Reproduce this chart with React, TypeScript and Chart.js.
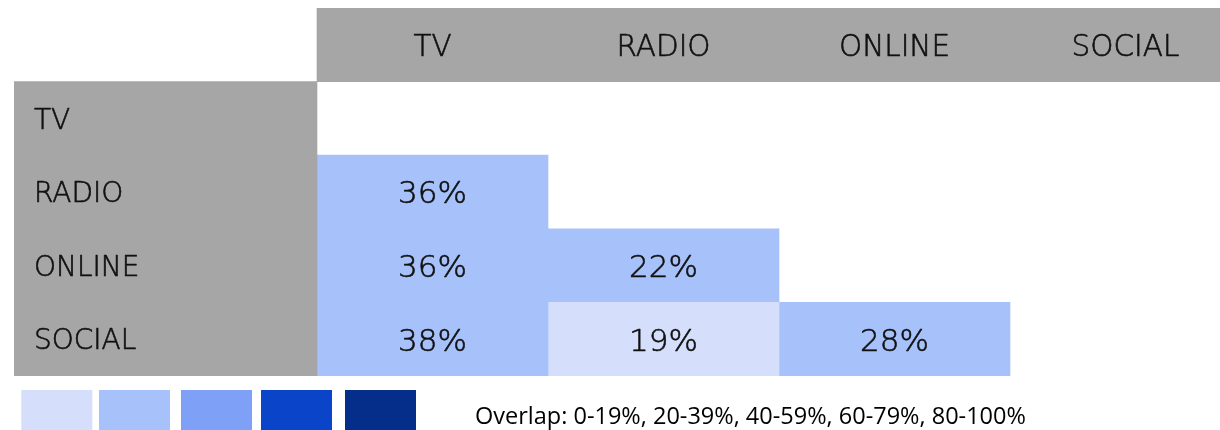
import React, { useEffect, useRef } from "react";
import { Chart, registerables } from "chart.js";

Chart.register(...registerables);

// ---- data ----
const COLUMNS: string[] = ["TV", "RADIO", "ONLINE", "SOCIAL"];
const ROWS: string[] = ["TV", "RADIO", "ONLINE", "SOCIAL"];
// overlap % per row (ROWS) and column (COLUMNS); null = empty cell
const OVERLAP_TV: (number | null)[] = [null, null, null, null];
const OVERLAP_RADIO: (number | null)[] = [36, null, null, null];
const OVERLAP_ONLINE: (number | null)[] = [36, 22, null, null];
const OVERLAP_SOCIAL: (number | null)[] = [38, 19, 28, null];
const OVERLAP: (number | null)[][] = [OVERLAP_TV, OVERLAP_RADIO, OVERLAP_ONLINE, OVERLAP_SOCIAL];

const BIN_STARTS: number[] = [0, 20, 40, 60, 80];
const BIN_COLORS: string[] = ["#d5dffc", "#a7c1fa", "#7ea1f7", "#0a44c9", "#052e8a"];
const LEGEND_TEXT = "Overlap: 0-19%, 20-39%, 40-59%, 60-79%, 80-100%";

// ---- style / layout ----
const GRAY = "#a6a6a6";
const TEXT = "#111111";
const LABEL_COL_UNITS = 303 / 231; // width of the row-label column in column units
const CANVAS_W = 1220;
const CANVAS_H = 430;
const PAD_LEFT = 14;
const PAD_TOP = 8;
const TABLE_BOTTOM = 376;
const FONT = "300 {size}px 'DejaVu Sans'";

function font(size: number): string {
  return FONT.replace("{size}", String(size));
}

function colorFor(v: number | null): string {
  if (v == null) return "rgba(0,0,0,0)";
  let idx = 0;
  for (let i = 0; i < BIN_STARTS.length; i++) if (v >= BIN_STARTS[i]) idx = i;
  return BIN_COLORS[idx];
}

function drawText(ctx: CanvasRenderingContext2D, s: string, x: number, y: number) {
  ctx.fillText(s, x, y);
  ctx.strokeText(s, x, y);
}

export default function App() {
  const ref = useRef<HTMLCanvasElement | null>(null);

  useEffect(() => {
    document.body.style.margin = "0";
    if (!ref.current) return;
    const yLabels = ["HEADER", ...ROWS];

    const datasets: any[] = [];
    // header background
    datasets.push({
      data: yLabels.map((_, i) => (i === 0 ? [0, COLUMNS.length] : null)),
      backgroundColor: GRAY,
    });
    // row label background
    datasets.push({
      data: yLabels.map((_, i) => (i === 0 ? null : [-LABEL_COL_UNITS, 0])),
      backgroundColor: GRAY,
    });
    // cells, one dataset per column
    COLUMNS.forEach((_, c) => {
      datasets.push({
        isCell: true,
        values: yLabels.map((_, i) => (i === 0 ? null : OVERLAP[i - 1][c])),
        data: yLabels.map((_, i) => (i === 0 || OVERLAP[i - 1][c] == null ? null : [c, c + 1])),
        backgroundColor: (ctx: any) => {
          const i = ctx.dataIndex;
          return i === 0 ? "rgba(0,0,0,0)" : colorFor(OVERLAP[i - 1][c]);
        },
      });
    });

    const textPlugin = {
      id: "tableText",
      afterDatasetsDraw(chart: any) {
        const ctx = chart.ctx as CanvasRenderingContext2D;
        const xs = chart.scales.x;
        const ys = chart.scales.y;
        ctx.save();
        ctx.fillStyle = TEXT;
        ctx.strokeStyle = TEXT;
        ctx.lineWidth = 0.6;
        ctx.lineJoin = "round";
        // header labels
        ctx.font = font(29.5);
        ctx.textAlign = "center";
        ctx.textBaseline = "alphabetic";
        COLUMNS.forEach((name, c) => {
          const x = xs.getPixelForValue(c + 0.5);
          const y = ys.getPixelForValue(0) + 0.365 * 29.5;
          drawText(ctx, name, x, y);
        });
        // row labels
        ctx.font = font(28);
        ctx.textAlign = "left";
        ROWS.forEach((name, r) => {
          const x = xs.getPixelForValue(-LABEL_COL_UNITS) + 20;
          const y = ys.getPixelForValue(r + 1) + 0.365 * 28;
          drawText(ctx, name, x, y);
        });
        // cell values
        ctx.font = font(31);
        ctx.textAlign = "center";
        chart.data.datasets.forEach((ds: any, di: number) => {
          if (!ds.isCell) return;
          const meta = chart.getDatasetMeta(di);
          meta.data.forEach((el: any, i: number) => {
            const v = ds.values[i];
            if (v == null) return;
            const cx = (el.x + el.base) / 2;
            const cy = el.y + 0.365 * 31;
            drawText(ctx, v + "%", cx, cy);
          });
        });
        // legend
        const top = chart.chartArea.bottom + 14;
        const lefts = [21.3, 99, 181, 261, 345];
        BIN_COLORS.forEach((col, i) => {
          ctx.fillStyle = col;
          ctx.fillRect(lefts[i], top, 71, 60);
        });
        ctx.fillStyle = "#000000";
        ctx.font = "23.5px 'Open Sans'";
        ctx.textAlign = "left";
        ctx.fillText(LEGEND_TEXT, 475, chart.chartArea.bottom + 48);
        ctx.restore();
      },
    };

    const chart = new Chart(ref.current, {
      type: "bar",
      data: { labels: yLabels, datasets },
      options: {
        indexAxis: "y",
        animation: false,
        responsive: false,
        devicePixelRatio: 1,
        layout: {
          padding: { left: PAD_LEFT, right: 0, top: PAD_TOP, bottom: CANVAS_H - TABLE_BOTTOM },
        },
        datasets: {
          bar: {
            grouped: false,
            barPercentage: 1,
            categoryPercentage: 1,
            borderWidth: 0,
          },
        },
        scales: {
          x: {
            type: "linear",
            min: -LABEL_COL_UNITS,
            max: -LABEL_COL_UNITS + (CANVAS_W - PAD_LEFT) / 231,
            display: false,
          },
          y: { type: "category", display: false, offset: true },
        },
        plugins: { legend: { display: false }, tooltip: { enabled: false } },
      },
      plugins: [textPlugin],
    } as any);
    return () => chart.destroy();
  }, []);

  return (
    <div style={{ width: CANVAS_W, height: CANVAS_H, overflow: "hidden" }}>
      <style>{"body{margin:0}"}</style>
      <canvas ref={ref} width={CANVAS_W} height={CANVAS_H} style={{ display: "block" }} />
    </div>
  );
}
